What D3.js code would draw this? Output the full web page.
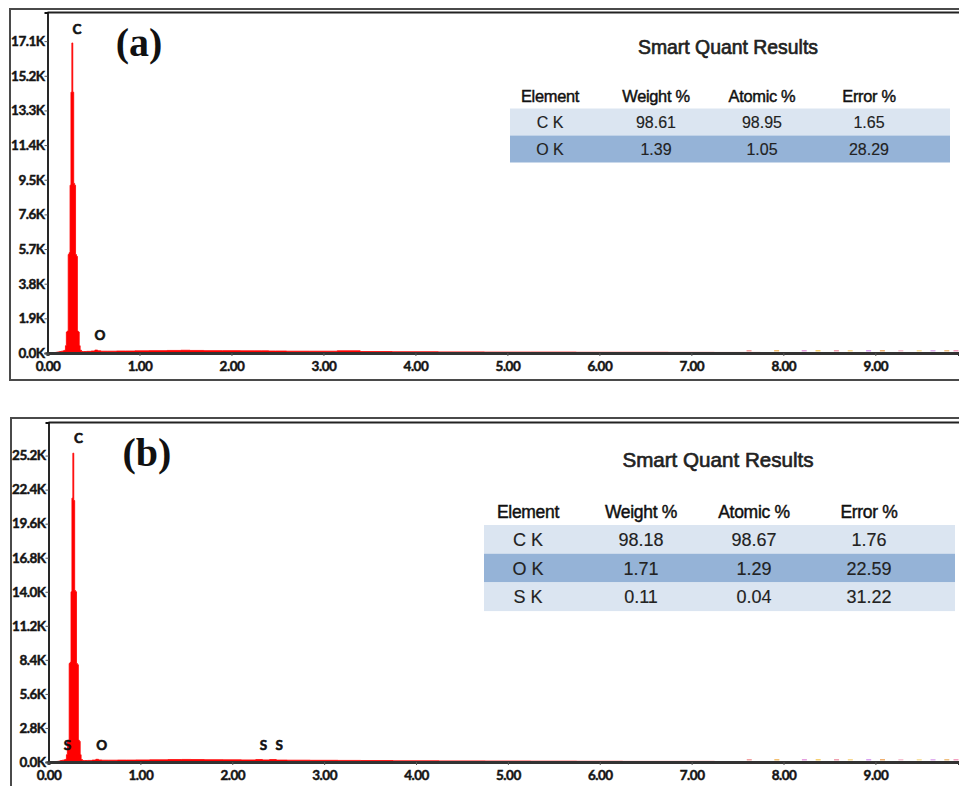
<!DOCTYPE html>
<html>
<head>
<meta charset="utf-8">
<script src="https://cdn.jsdelivr.net/npm/d3@7"></script>
<style>
html,body{margin:0;padding:0;background:#fff;}
svg{display:block;}
</style>
</head>
<body>
<svg id="chart" width="959" height="786"></svg>
<script>
// ---------------- DATA ----------------
const energy = [0.08,0.10,0.12,0.14,0.16,0.18,
  0.19,0.20,0.21,0.22,0.23,0.24,0.25,0.26,0.27,0.28,0.29,0.30,0.31,0.32,0.33,0.34,0.35,0.36,
  0.38,0.40,0.45,0.50,0.53,0.56,0.60,0.70,0.80,0.90,1.00,
  1.20,1.40,1.50,1.60,1.80,2.00,2.20,2.31,2.35,2.46,2.50,2.70,3.00,3.30,3.50,
  4.00,4.50,5.00,5.50,6.00,6.50,7.00,7.50,8.00,8.50,9.00,9.50,9.90];
// counts in thousands (K)
const countsA = [0.02,0.04,0.06,0.08,0.10,0.12,
  0.15,0.4,1.15,1.2,5.4,5.5,9.2,14.3,17.0,14.3,9.3,9.2,5.4,5.3,1.2,1.15,0.4,0.15,
  0.08,0.08,0.09,0.11,0.16,0.12,0.10,0.10,0.11,0.11,0.12,
  0.13,0.14,0.15,0.14,0.13,0.13,0.12,0.12,0.12,0.11,0.11,0.10,0.10,0.12,0.08,
  0.07,0.06,0.05,0.05,0.04,0.04,0.035,0.03,0.025,0.02,0.02,0.015,0.01];
const countsB = [0.03,0.05,0.08,0.12,0.15,0.18,
  0.22,0.6,1.7,1.8,8.1,8.2,14.0,21.7,25.4,21.5,14.1,14.0,8.1,8.0,1.8,1.7,0.6,0.2,
  0.12,0.12,0.13,0.16,0.22,0.17,0.15,0.15,0.16,0.16,0.17,
  0.18,0.20,0.21,0.20,0.19,0.18,0.17,0.20,0.17,0.20,0.16,0.15,0.14,0.13,0.12,
  0.10,0.09,0.08,0.07,0.06,0.05,0.05,0.04,0.035,0.03,0.025,0.02,0.015];

const xTicks = [0,1,2,3,4,5,6,7,8,9];
const yTicksA = [0,1.9,3.8,5.7,7.6,9.5,11.4,13.3,15.2,17.1];
const yTicksB = [0,2.8,5.6,8.4,11.2,14.0,16.8,19.6,22.4,25.2];

const peakLabelsA = ["C","O"];
const peakLabelEA = [0.32,0.57];
const peakLabelKA = [17.5,0.71];
const peakLabelsB = ["C","S","O","S","S"];
const peakLabelEB = [0.325,0.205,0.58,2.34,2.51];
const peakLabelKB = [26.2,0.99,0.99,0.99,0.99];

const tableHeader = ["Element","Weight %","Atomic %","Error %"];
const elementsA = ["C K","O K"];
const weightA = ["98.61","1.39"];
const atomicA = ["98.95","1.05"];
const errorA  = ["1.65","28.29"];
const elementsB = ["C K","O K","S K"];
const weightB = ["98.18","1.71","0.11"];
const atomicB = ["98.67","1.29","0.04"];
const errorB  = ["1.76","22.59","31.22"];

const tailE = [7.6,7.9,8.2,8.35,8.55,8.7,8.9,9.05,9.25,9.45,9.6,9.75,9.85];
const tailColors = ["#f2a0a0","#f4c070","#e6a0e0","#f6d070","#f0a0b0","#f8d890","#d8a0f0","#f0b070","#f6c0d0","#f8e0a0","#e0b0f0","#f0c080","#f4a0c0"];

// ---------------- DRAW ----------------
const svg = d3.select("#chart");
const axisFont = "Lato, 'DejaVu Sans', sans-serif";
const tableFont = "'Liberation Sans', Arial, sans-serif";

function panel(cfg){
  const g = svg.append("g");
  g.append("rect").attr("x",cfg.frame[0]).attr("y",cfg.frame[1])
    .attr("width",cfg.frame[2]).attr("height",cfg.frame[3])
    .attr("fill","none").attr("stroke","#4a4a4a").attr("stroke-width",2);

  const x = d3.scaleLinear().domain([0, 9.91]).range([cfg.left, 959]);
  const y = d3.scaleLinear().domain([0, cfg.ymax]).range([cfg.base, cfg.top]);

  const data = energy.map((e,i)=>({e, c: cfg.counts[i]}));
  const area = d3.area().x(d=>x(d.e)).y0(y(0)).y1(d=>y(d.c)).curve(d3.curveStep);
  g.append("path").datum(data).attr("d",area).attr("fill","#ff0000").attr("stroke","#ff0000").attr("stroke-width",0.8);

  g.selectAll("rect.tail").data(tailE).enter().append("rect")
    .attr("x",d=>x(d)).attr("y",y(0)-3).attr("width",5).attr("height",1.5)
    .attr("fill",(d,i)=>tailColors[i]);

  g.append("line").attr("x1",cfg.left).attr("x2",959).attr("y1",cfg.top).attr("y2",cfg.top)
    .attr("stroke","#222").attr("stroke-width",1.8);

  const ya = d3.axisLeft(y).tickValues(cfg.yTicks).tickSize(3).tickPadding(0)
    .tickFormat(d=>d3.format(".1f")(d)+"K");
  const yg = g.append("g").attr("transform",`translate(${cfg.left},0)`).call(ya);
  yg.select(".domain").attr("stroke","#111").attr("stroke-width",1.8);
  yg.selectAll(".tick line").attr("stroke","#555");
  yg.selectAll("text").style("font-family",axisFont).style("font-size","13.5px")
    .style("font-weight",700).attr("fill","#151515").attr("stroke","#151515").attr("stroke-width",0.45)
    .attr("letter-spacing","-0.5px");

  const xa = d3.axisBottom(x).tickValues(xTicks).tickSize(3).tickPadding(5)
    .tickFormat(d3.format(".2f"));
  const xg = g.append("g").attr("transform",`translate(0,${cfg.base})`).call(xa);
  xg.select(".domain").attr("stroke","#333").attr("stroke-width",3);
  xg.selectAll(".tick line").attr("stroke","#555");
  xg.selectAll("text").style("font-family",axisFont).style("font-size","13.5px")
    .style("font-weight",700).attr("fill","#151515").attr("stroke","#151515").attr("stroke-width",0.45)
    .attr("letter-spacing","-0.5px");

  g.selectAll("text.pl").data(cfg.pLabels).enter().append("text")
    .attr("x",(d,i)=>x(cfg.pE[i])).attr("y",(d,i)=>y(cfg.pK[i]))
    .attr("text-anchor","middle").style("font-family",axisFont).style("font-weight",700)
    .style("font-size","13.5px").attr("fill","#111").attr("stroke","#111").attr("stroke-width",0.6).text(d=>d);

  g.append("text").attr("x",cfg.letterPos[0]).attr("y",cfg.letterPos[1])
    .attr("text-anchor","middle").attr("font-family","'Liberation Serif','Times New Roman',serif")
    .attr("font-weight",700).attr("font-size","40px").attr("fill","#111").text(cfg.letter);

  const t = cfg.table;
  g.append("text").attr("x",t.titleX).attr("y",t.titleY).attr("text-anchor","middle")
    .attr("font-family",tableFont).attr("font-size",t.fs[0]+"px").attr("fill","#222")
    .attr("stroke","#222").attr("stroke-width",0.65).text("Smart Quant Results");
  g.selectAll("text.hd").data(tableHeader).enter().append("text")
    .attr("x",(d,i)=>t.cols[i]).attr("y",t.headY).attr("text-anchor","middle")
    .attr("font-family",tableFont).attr("font-size",t.fs[1]+"px").attr("fill","#111")
    .attr("stroke","#111").attr("stroke-width",0.45).attr("letter-spacing","-0.3px").text(d=>d);
  const rows = t.elements.map((el,i)=>[el, t.weight[i], t.atomic[i], t.error[i]]);
  rows.forEach((r,i)=>{
    g.append("rect").attr("x",t.x0).attr("y",t.rowY0 + i*t.rowH).attr("width",t.x1-t.x0)
      .attr("height",t.rowH).attr("fill", i%2===1 ? "#95b3d7" : "#dbe5f1");
    r.forEach((v,j)=>{
      g.append("text").attr("x",t.cols[j]).attr("y",t.rowY0 + i*t.rowH + t.rowH*0.5 + t.fs[2]*0.36)
        .attr("text-anchor","middle").attr("font-family",tableFont).attr("font-size",t.fs[2]+"px")
        .attr("fill","#222").attr("stroke","#222").attr("stroke-width",0.15).text(v);
    });
  });
}

panel({
  frame:[10,9,960,371], left:47.5, top:12.5, base:353, ymax:18.67,
  counts:countsA, yTicks:yTicksA,
  pLabels:peakLabelsA, pE:peakLabelEA, pK:peakLabelKA,
  letter:"(a)", letterPos:[139,56],
  table:{titleX:728,titleY:54,headY:102,cols:[550,656,762,869],x0:510,x1:950,rowY0:108.5,rowH:27,
         fs:[19.4,16.4,16],
         elements:elementsA, weight:weightA, atomic:atomicA, error:errorA}
});
panel({
  frame:[11,418,960,372], left:48.5, top:422.5, base:762, ymax:27.92,
  counts:countsB, yTicks:yTicksB,
  pLabels:peakLabelsB, pE:peakLabelEB, pK:peakLabelKB,
  letter:"(b)", letterPos:[147,466],
  table:{titleX:718,titleY:466.5,headY:517.5,cols:[528,641,754,869],x0:484,x1:955,rowY0:525,rowH:28.7,
         fs:[20.6,17.5,18],
         elements:elementsB, weight:weightB, atomic:atomicB, error:errorB}
});
</script>
</body>
</html>
